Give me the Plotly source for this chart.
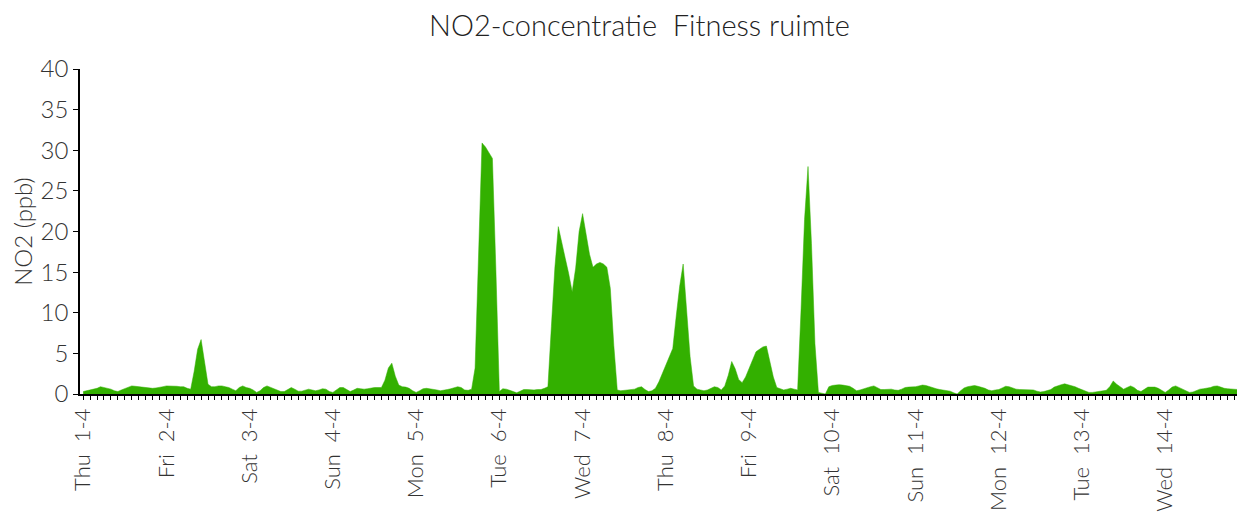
import plotly.graph_objects as go
import pandas as pd

# hourly NO2 readings (ppb), one list per day, starting 00:00
apr01 = [0.3, 0.4, 0.5, 0.6, 0.7, 0.9, 0.8, 0.7, 0.6, 0.4, 0.3, 0.5, 0.7, 0.9, 1.0, 0.95, 0.9, 0.85, 0.8, 0.75, 0.7, 0.75, 0.8, 0.9]
apr02 = [1.0, 1.0, 1.0, 0.95, 0.9, 0.9, 0.7, 0.6, 2.8, 5.5, 6.7, 3.8, 1.2, 0.9, 0.9, 1.0, 1.0, 0.9, 0.8, 0.6, 0.4, 0.8, 1.0, 0.8]
apr03 = [0.7, 0.5, 0.2, 0.4, 0.8, 1.0, 0.8, 0.6, 0.5, 0.3, 0.3, 0.6, 0.8, 0.6, 0.35, 0.35, 0.5, 0.6, 0.5, 0.4, 0.5, 0.65, 0.6, 0.3]
apr04 = [0.2, 0.5, 0.8, 0.8, 0.5, 0.3, 0.5, 0.7, 0.65, 0.6, 0.65, 0.75, 0.8, 0.8, 0.8, 1.7, 3.2, 3.8, 2.2, 1.1, 0.9, 0.85, 0.7, 0.4]
apr05 = [0.2, 0.4, 0.65, 0.7, 0.65, 0.6, 0.5, 0.4, 0.45, 0.55, 0.65, 0.8, 0.9, 0.8, 0.5, 0.45, 0.6, 3.2, 16.0, 30.9, 30.4, 29.7, 29.0, 15.3]
apr06 = [0.3, 0.65, 0.6, 0.45, 0.25, 0.15, 0.35, 0.55, 0.55, 0.5, 0.5, 0.55, 0.55, 0.7, 0.9, 8.3, 15.5, 20.6, 18.5, 16.7, 14.8, 12.6, 15.5, 20.0]
apr07 = [22.2, 19.6, 17.2, 15.6, 16.0, 16.2, 16.0, 15.6, 13.0, 6.0, 0.5, 0.4, 0.45, 0.5, 0.55, 0.6, 0.8, 0.9, 0.55, 0.3, 0.4, 0.7, 1.5, 2.5]
apr08 = [3.6, 4.6, 5.6, 9.6, 13.3, 16.0, 9.7, 4.6, 1.0, 0.6, 0.5, 0.4, 0.5, 0.7, 0.9, 0.8, 0.5, 1.0, 2.3, 4.0, 3.1, 1.8, 1.4, 2.1]
apr09 = [3.2, 4.3, 5.2, 5.5, 5.8, 5.9, 3.9, 2.1, 0.8, 0.6, 0.5, 0.6, 0.7, 0.6, 0.5, 10.5, 21.5, 28.0, 18.5, 6.2, 0.2, 0.1, 0.0, 0.9]
apr10 = [1.05, 1.1, 1.15, 1.1, 1.05, 0.95, 0.7, 0.4, 0.5, 0.65, 0.75, 0.9, 1.0, 0.8, 0.55, 0.55, 0.6, 0.6, 0.5, 0.45, 0.6, 0.8, 0.85, 0.85]
apr11 = [0.9, 1.0, 1.1, 1.05, 0.9, 0.75, 0.65, 0.55, 0.5, 0.45, 0.35, 0.15, 0.0, 0.4, 0.75, 0.9, 1.0, 1.05, 0.95, 0.85, 0.7, 0.5, 0.4, 0.5]
apr12 = [0.55, 0.75, 0.95, 0.9, 0.7, 0.6, 0.55, 0.55, 0.55, 0.55, 0.5, 0.35, 0.25, 0.3, 0.4, 0.55, 0.85, 1.05, 1.15, 1.25, 1.15, 1.05, 0.9, 0.7]
apr13 = [0.5, 0.35, 0.2, 0.2, 0.25, 0.3, 0.4, 0.45, 0.9, 1.6, 1.2, 0.9, 0.6, 0.8, 1.0, 0.8, 0.45, 0.3, 0.6, 0.85, 0.85, 0.85, 0.7, 0.4]
apr14 = [0.2, 0.5, 0.85, 1.0, 0.8, 0.55, 0.4, 0.2, 0.25, 0.45, 0.6, 0.65, 0.7, 0.8, 0.95, 1.0, 0.85, 0.7, 0.65, 0.6, 0.55, 0.55, 0.55, 0.55]

day_dates = pd.date_range("2021-04-01", periods=14, freq="D")
# double (non-breaking) space between weekday and date, as in the original
day_labels = ["Thu\u00a0\u00a01-4", "Fri\u00a0\u00a02-4", "Sat\u00a0\u00a03-4", "Sun\u00a0\u00a04-4",
              "Mon\u00a0\u00a05-4", "Tue\u00a0\u00a06-4", "Wed\u00a0\u00a07-4", "Thu\u00a0\u00a08-4",
              "Fri\u00a0\u00a09-4", "Sat\u00a0\u00a010-4", "Sun\u00a0\u00a011-4", "Mon\u00a0\u00a012-4",
              "Tue\u00a0\u00a013-4", "Wed\u00a0\u00a014-4"]

no2 = (apr01 + apr02 + apr03 + apr04 + apr05 + apr06 + apr07 +
       apr08 + apr09 + apr10 + apr11 + apr12 + apr13 + apr14)
times = pd.date_range("2021-04-01 00:00", periods=len(no2), freq="h")

FONT = "Lato"
GREEN = "#33b000"

fig = go.Figure()
fig.add_trace(go.Scatter(
    x=times, y=no2, mode="lines", fill="tozeroy",
    line=dict(color=GREEN, width=0.5), fillcolor=GREEN,
    hoverinfo="x+y", showlegend=False,
))

# page body has an 8px margin, so the figure is 8px smaller than the window
fig.update_layout(
    width=1237, height=504,
    margin=dict(l=72, r=0, t=61, b=118),
    paper_bgcolor="white", plot_bgcolor="white",
    font=dict(family=FONT, size=22, color="#333333", weight=300),
    title=dict(text="NO2-concentratie\u00a0\u00a0Fitness ruimte", x=0.5105, xref="container",
               xanchor="center", y=0.964, yref="container", yanchor="middle",
               font=dict(family=FONT, size=29, color="#222222", weight=300)),
)

fig.update_xaxes(
    range=[pd.Timestamp("2021-03-31 23:05"), pd.Timestamp("2021-04-14 23:00")],
    tickmode="array", tickvals=day_dates, ticktext=day_labels, tickangle=-90,
    ticks="outside", ticklen=4, tickcolor="black", tickwidth=1,
    minor=dict(dtick=7200000, tick0="2021-04-01", ticks="outside", ticklen=4,
               tickcolor="black", tickwidth=1),
    showline=True, linecolor="black", linewidth=1.5,
    showgrid=False, zeroline=False, automargin=False,
    tickfont=dict(size=22),
)
fig.update_yaxes(
    range=[0, 40], dtick=5, ticks="outside", ticklen=5, tickcolor="black",
    showline=True, linecolor="black", linewidth=1.5,
    showgrid=False, zeroline=False, automargin=False,
    tickfont=dict(size=24),
    title=dict(text="NO2 (ppb)", font=dict(size=24), standoff=8),
)

fig.write_html("out.html")
